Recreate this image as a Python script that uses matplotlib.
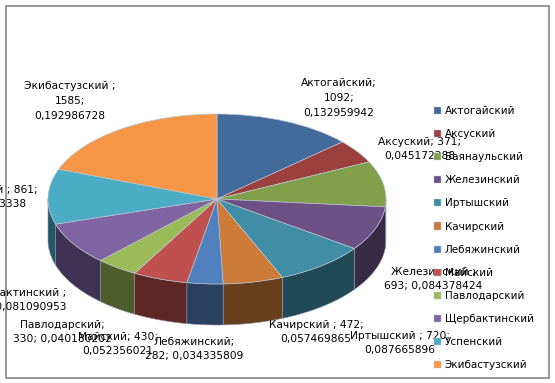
import numpy as np
import matplotlib
matplotlib.use("Agg")
import matplotlib.pyplot as plt
from matplotlib.patches import Rectangle

plt.rcParams['font.family'] = ['DejaVu Sans']

districts = ["Актогайский", "Аксуский", "Баянаульский", "Железинский", "Иртышский", "Качирский",
             "Лебяжинский", "Майский", "Павлодарский", "Щербактинский", "Успенский", "Экибастузский"]
values = [1092, 371, 711, 693, 720, 472, 282, 430, 330, 666, 861, 1585]
top_colors = ["#426A9A", "#9B403E", "#82A04A", "#6C5086", "#3F8EA5", "#CC7A37",
              "#5080BD", "#C0504D", "#9BBB59", "#8064A2", "#4BACC6", "#F79646"]
wall_colors = ["#2A4060", "#5E2726", "#4F5C2B", "#372B47", "#214A57", "#683F1C",
               "#2A4060", "#5E2726", "#4F5C2B", "#3F3252", "#245866", "#8A5020"]
data_labels = [
    ("Экибастузский ;\n1585;\n0,192986728", 70, 101),
    ("Актогайский;\n1092;\n0,132959942", 339, 98),
    ("Аксуский; 371;\n0,045172288", 420, 149),
    ("Железинский ;\n693; 0,084378424", 433, 279),
    ("Иртышский ; 720;\n0,087665896", 400, 343),
    ("Качирский ; 472;\n0,057469865", 316, 332),
    ("Лебяжинский;\n282; 0,034335809", 194, 349),
    ("Майский; 430;\n0,052356021", 118, 344),
    ("Павлодарский;\n330; 0,040180202", 62, 332),
    ("Щербактинский ;\n666; 0,081090953", 17, 300),
    ("Успенский ; 861;\n0,104833338", -9, 197),
]

W, H = 555, 383
depth = 41 / 85
fig = plt.figure(figsize=(W / 100, H / 100), dpi=100, facecolor="white")

# pie axes: ellipse spans x 48..386, y 114..284, wall down to 325 px
ax = fig.add_axes([48 / W, (H - 325) / H, 338 / W, 211 / H])
wedges, _ = ax.pie(values, colors=top_colors, startangle=90, counterclock=False, radius=1,
                   wedgeprops=dict(edgecolor="#B8C4D0", linewidth=0.5, zorder=3, clip_on=False))
ax.set_aspect("auto")
ax.set_xlim(-1, 1)
ax.set_ylim(-1 - depth, 1)
ax.axis("off")

edges = np.cumsum([0] + values) / sum(values) * 2 * np.pi
for i in range(len(values)):
    a, b = max(edges[i], np.pi / 2), min(edges[i + 1], 3 * np.pi / 2)
    if a < b:
        t = np.linspace(a, b, 60)
        x, y = np.sin(t), np.cos(t)
        ax.fill(np.r_[x, x[::-1]], np.r_[y, y[::-1] - depth], facecolor=wall_colors[i],
                edgecolor="#8A97A5", linewidth=0.4, zorder=2, clip_on=False)

# overlay in pixel coordinates
ov = fig.add_axes([0, 0, 1, 1], facecolor="none")
ov.set_xlim(0, W)
ov.set_ylim(H, 0)
ov.axis("off")
ov.add_patch(Rectangle((5.5, 5.5), 543, 372, fill=False, edgecolor="#868686", linewidth=1.2))

leg = ov.legend(wedges, districts, loc="upper left", bbox_to_anchor=(434 / W, 1 - 106 / H),
                frameon=False, fontsize=7.5, labelspacing=1.26, handlelength=0.67, handleheight=0.67,
                handletextpad=0.38, borderpad=0, borderaxespad=0)
for h in leg.legend_handles:
    h.set_linewidth(0.3)

for text, x, y in data_labels:
    ov.text(x, y, text, ha="center", va="center", fontsize=7.7, linespacing=1.58,
            color="black", multialignment="center", clip_on=False)

fig.savefig("out.png", dpi=100)
